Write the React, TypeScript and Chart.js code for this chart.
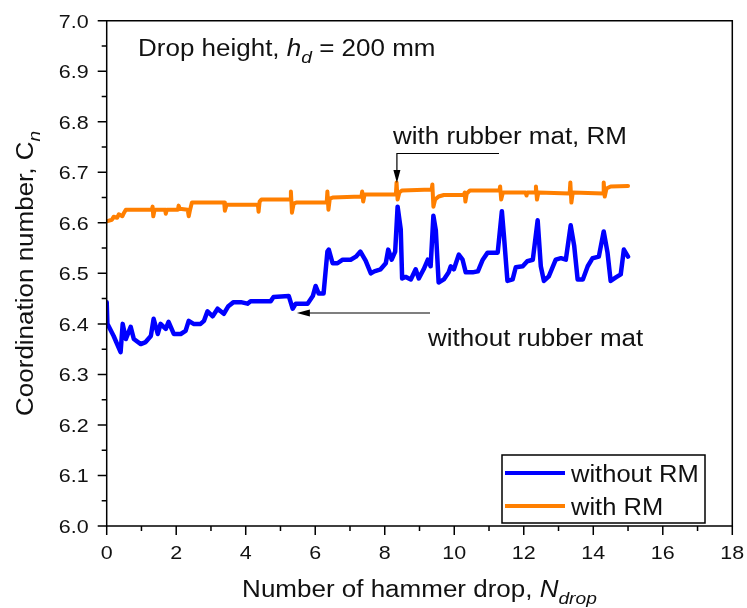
import React, { useEffect, useRef } from 'react';
import { Chart, registerables } from 'chart.js';
Chart.register(...registerables);

// Series: without rubber mat
const withoutN = [0, 0.02, 0.2, 0.4, 0.46, 0.55, 0.69, 0.78, 0.98, 1.12, 1.27, 1.35, 1.47, 1.55, 1.7, 1.78, 1.93, 2.13, 2.27, 2.36, 2.5, 2.7, 2.8, 2.9, 3.05, 3.19, 3.37, 3.5, 3.65, 3.86, 4.05, 4.14, 4.72, 4.8, 5.24, 5.35, 5.44, 5.78, 5.93, 6.01, 6.1, 6.24, 6.35, 6.39, 6.5, 6.64, 6.79, 7.02, 7.17, 7.3, 7.45, 7.6, 7.7, 7.88, 8.03, 8.1, 8.2, 8.3, 8.37, 8.46, 8.5, 8.6, 8.75, 8.89, 8.98, 9.12, 9.24, 9.32, 9.4, 9.47, 9.55, 9.7, 9.84, 9.9, 9.99, 10.13, 10.24, 10.33, 10.53, 10.68, 10.82, 10.96, 11.25, 11.37, 11.43, 11.53, 11.68, 11.77, 11.97, 12.1, 12.26, 12.4, 12.49, 12.58, 12.72, 12.92, 13.07, 13.21, 13.35, 13.45, 13.55, 13.7, 13.84, 13.98, 14.16, 14.3, 14.41, 14.5, 14.65, 14.79, 14.88, 15.0];
const withoutC = [6.443, 6.40, 6.376, 6.344, 6.40, 6.37, 6.394, 6.37, 6.36, 6.364, 6.376, 6.41, 6.38, 6.40, 6.39, 6.404, 6.38, 6.38, 6.386, 6.406, 6.40, 6.40, 6.406, 6.425, 6.415, 6.43, 6.42, 6.435, 6.443, 6.443, 6.44, 6.445, 6.445, 6.453, 6.455, 6.43, 6.44, 6.44, 6.455, 6.475, 6.46, 6.46, 6.543, 6.547, 6.52, 6.52, 6.527, 6.527, 6.533, 6.543, 6.525, 6.5, 6.504, 6.508, 6.52, 6.547, 6.527, 6.543, 6.632, 6.587, 6.49, 6.493, 6.488, 6.508, 6.49, 6.508, 6.527, 6.514, 6.614, 6.585, 6.482, 6.488, 6.502, 6.514, 6.508, 6.537, 6.527, 6.502, 6.502, 6.504, 6.527, 6.541, 6.541, 6.623, 6.574, 6.485, 6.488, 6.512, 6.514, 6.524, 6.527, 6.605, 6.514, 6.485, 6.494, 6.527, 6.53, 6.527, 6.595, 6.555, 6.488, 6.488, 6.514, 6.53, 6.533, 6.583, 6.541, 6.485, 6.492, 6.498, 6.547, 6.533];

// Series: with rubber mat
const withN = [0, 0.15, 0.2, 0.3, 0.35, 0.45, 0.5, 0.55, 1.3, 1.32, 1.34, 1.38, 1.68, 1.7, 1.73, 2.05, 2.07, 2.1, 2.33, 2.36, 2.4, 2.45, 3.38, 3.4, 3.45, 4.35, 4.37, 4.4, 4.45, 5.28, 5.3, 5.33, 5.38, 5.45, 6.33, 6.35, 6.38, 6.42, 6.5, 7.33, 7.35, 7.38, 7.42, 8.32, 8.34, 8.37, 8.42, 8.5, 9.35, 9.37, 9.4, 9.45, 9.55, 9.7, 10.28, 10.3, 10.32, 10.36, 10.45, 11.3, 11.32, 11.35, 11.4, 12.05, 12.08, 12.1, 12.33, 12.35, 12.38, 12.42, 13.32, 13.34, 13.37, 13.41, 14.28, 14.3, 14.33, 14.38, 14.5, 15.0];
const withC = [6.603, 6.606, 6.612, 6.61, 6.617, 6.613, 6.62, 6.626, 6.626, 6.632, 6.613, 6.626, 6.626, 6.618, 6.626, 6.626, 6.634, 6.628, 6.626, 6.613, 6.626, 6.64, 6.64, 6.624, 6.636, 6.636, 6.622, 6.642, 6.646, 6.646, 6.662, 6.62, 6.638, 6.64, 6.64, 6.662, 6.626, 6.648, 6.65, 6.652, 6.662, 6.642, 6.656, 6.656, 6.68, 6.646, 6.66, 6.664, 6.666, 6.676, 6.632, 6.646, 6.652, 6.655, 6.655, 6.66, 6.642, 6.658, 6.664, 6.664, 6.672, 6.646, 6.66, 6.66, 6.654, 6.66, 6.66, 6.672, 6.646, 6.66, 6.658, 6.68, 6.64, 6.66, 6.658, 6.68, 6.652, 6.668, 6.672, 6.673];

const xTicks = [0, 2, 4, 6, 8, 10, 12, 14, 16, 18];
const xMinorTicks = [1, 3, 5, 7, 9, 11, 13, 15, 17];
const yTicks = [6.0, 6.1, 6.2, 6.3, 6.4, 6.5, 6.6, 6.7, 6.8, 6.9, 7.0];
const yMinorTicks = [6.05, 6.15, 6.25, 6.35, 6.45, 6.55, 6.65, 6.75, 6.85, 6.95];

const seriesNames = ['without RM', 'with RM'];
const seriesColors = ['#0000FF', '#FF7F00'];

const FONT = '"Liberation Sans", Arial, sans-serif';
const TXT = '#111111';

type Seg = { t: string; it?: boolean; sub?: boolean };

function drawRich(
  ctx: CanvasRenderingContext2D,
  segs: Seg[],
  x: number,
  y: number,
  size: number,
  sx: number,
  align: 'left' | 'center' | 'right',
  rotate = false
) {
  ctx.save();
  ctx.translate(x, y);
  if (rotate) ctx.rotate(-Math.PI / 2);
  ctx.scale(sx, 1);
  const fontOf = (s: Seg) => `${s.it ? 'italic ' : ''}${s.sub ? Math.round(size * 0.72) : size}px ${FONT}`;
  let w = 0;
  for (const s of segs) {
    ctx.font = fontOf(s);
    w += ctx.measureText(s.t).width;
  }
  let cx = align === 'left' ? 0 : align === 'center' ? -w / 2 : -w;
  ctx.fillStyle = TXT;
  ctx.textBaseline = 'alphabetic';
  ctx.textAlign = 'left';
  for (const s of segs) {
    ctx.font = fontOf(s);
    ctx.fillText(s.t, cx, s.sub ? size * 0.3 : 0);
    cx += ctx.measureText(s.t).width;
  }
  ctx.restore();
}

const decorPlugin = {
  id: 'decor',
  afterDraw(chart: any) {
    const ctx: CanvasRenderingContext2D = chart.ctx;
    const xs = chart.scales.x;
    const ys = chart.scales.y;
    const { left, right, top, bottom } = chart.chartArea;
    ctx.save();
    ctx.strokeStyle = '#000';
    ctx.lineWidth = 1.5;
    // frame
    ctx.beginPath();
    ctx.rect(left, top, right - left, bottom - top);
    ctx.stroke();
    // ticks
    ctx.beginPath();
    for (const v of xTicks) {
      const px = xs.getPixelForValue(v);
      ctx.moveTo(px, bottom);
      ctx.lineTo(px, bottom + 9);
    }
    for (const v of xMinorTicks) {
      const px = xs.getPixelForValue(v);
      ctx.moveTo(px, bottom);
      ctx.lineTo(px, bottom + 5);
    }
    for (const v of yTicks) {
      const py = ys.getPixelForValue(v);
      ctx.moveTo(left, py);
      ctx.lineTo(left - 9, py);
    }
    for (const v of yMinorTicks) {
      const py = ys.getPixelForValue(v);
      ctx.moveTo(left, py);
      ctx.lineTo(left - 5, py);
    }
    ctx.stroke();

    // tick labels
    for (const v of xTicks) {
      drawRich(ctx, [{ t: String(v) }], xs.getPixelForValue(v), bottom + 33, 19, 1.13, 'center');
    }
    for (const v of yTicks) {
      drawRich(ctx, [{ t: v.toFixed(1) }], left - 18, ys.getPixelForValue(v) + 7, 19, 1.13, 'right');
    }

    // axis titles
    drawRich(
      ctx,
      [{ t: 'Number of hammer drop, ' }, { t: 'N', it: true }, { t: 'drop', it: true, sub: true }],
      (left + right) / 2,
      597,
      23,
      1.13,
      'center'
    );
    drawRich(
      ctx,
      [{ t: 'Coordination number, ' }, { t: 'C' }, { t: 'n', it: true, sub: true }],
      33,
      (top + bottom) / 2,
      23,
      1.13,
      'center',
      true
    );

    // annotations
    drawRich(
      ctx,
      [{ t: 'Drop height, ' }, { t: 'h', it: true }, { t: 'd', it: true, sub: true }, { t: ' = 200 mm' }],
      138,
      56,
      23,
      1.13,
      'left'
    );
    drawRich(ctx, [{ t: 'with rubber mat, RM' }], 393, 144, 23, 1.13, 'left');
    drawRich(ctx, [{ t: 'without rubber mat' }], 428, 346, 23, 1.13, 'left');

    // arrows
    ctx.lineWidth = 1.2;
    ctx.strokeStyle = '#000';
    ctx.fillStyle = '#000';
    const ax = xs.getPixelForValue(8.35);
    ctx.beginPath();
    ctx.moveTo(499, 153.5);
    ctx.lineTo(ax, 153.5);
    ctx.lineTo(ax, 172);
    ctx.stroke();
    ctx.beginPath();
    ctx.moveTo(ax - 3.5, 170);
    ctx.lineTo(ax + 3.5, 170);
    ctx.lineTo(ax, 183);
    ctx.closePath();
    ctx.fill();

    const bx = xs.getPixelForValue(5.5);
    ctx.beginPath();
    ctx.moveTo(430, 313);
    ctx.lineTo(bx + 8, 313);
    ctx.stroke();
    ctx.beginPath();
    ctx.moveTo(bx + 12, 309.5);
    ctx.lineTo(bx + 12, 316.5);
    ctx.lineTo(bx - 1, 313);
    ctx.closePath();
    ctx.fill();

    // legend
    ctx.lineWidth = 1.5;
    ctx.fillStyle = '#fff';
    ctx.fillRect(502, 455, 203, 68);
    ctx.strokeStyle = '#000';
    ctx.strokeRect(502, 455, 203, 68);
    const rows = [473, 506];
    seriesNames.forEach((name, i) => {
      ctx.strokeStyle = seriesColors[i];
      ctx.lineWidth = 4;
      ctx.beginPath();
      ctx.moveTo(505, rows[i]);
      ctx.lineTo(565, rows[i]);
      ctx.stroke();
      drawRich(ctx, [{ t: name }], 571, rows[i] + 8.5, 23, 1.11, 'left');
    });
    ctx.restore();
  },
};

export default function App() {
  const ref = useRef<HTMLCanvasElement | null>(null);
  useEffect(() => {
    document.body.style.margin = '0';
    const canvas = ref.current;
    if (!canvas) return;
    const chart = new Chart(canvas, {
      type: 'line',
      data: {
        datasets: [
          {
            label: seriesNames[0],
            data: withoutN.map((n, i) => ({ x: n, y: withoutC[i] })),
            borderColor: seriesColors[0],
            borderWidth: 4.5,
            borderJoinStyle: 'round',
            borderCapStyle: 'round',
            pointRadius: 0,
            tension: 0,
            fill: false,
          },
          {
            label: seriesNames[1],
            data: withN.map((n, i) => ({ x: n, y: withC[i] })),
            borderColor: seriesColors[1],
            borderWidth: 4,
            borderJoinStyle: 'round',
            borderCapStyle: 'round',
            pointRadius: 0,
            tension: 0,
            fill: false,
          },
        ],
      },
      options: {
        animation: false,
        responsive: false,
        maintainAspectRatio: false,
        layout: { padding: { left: 106.7, right: 14.7, top: 20.7, bottom: 82 } },
        plugins: { legend: { display: false }, tooltip: { enabled: false } },
        scales: {
          x: { type: 'linear', min: 0, max: 18, display: false },
          y: { type: 'linear', min: 6.0, max: 7.0, display: false },
        },
      },
      plugins: [decorPlugin],
    });
    return () => chart.destroy();
  }, []);
  return (
    <div style={{ position: 'fixed', left: 0, top: 0, width: 747, height: 608, background: '#fff' }}>
      <canvas ref={ref} width={747} height={608} style={{ display: 'block', width: 747, height: 608 }} />
    </div>
  );
}
